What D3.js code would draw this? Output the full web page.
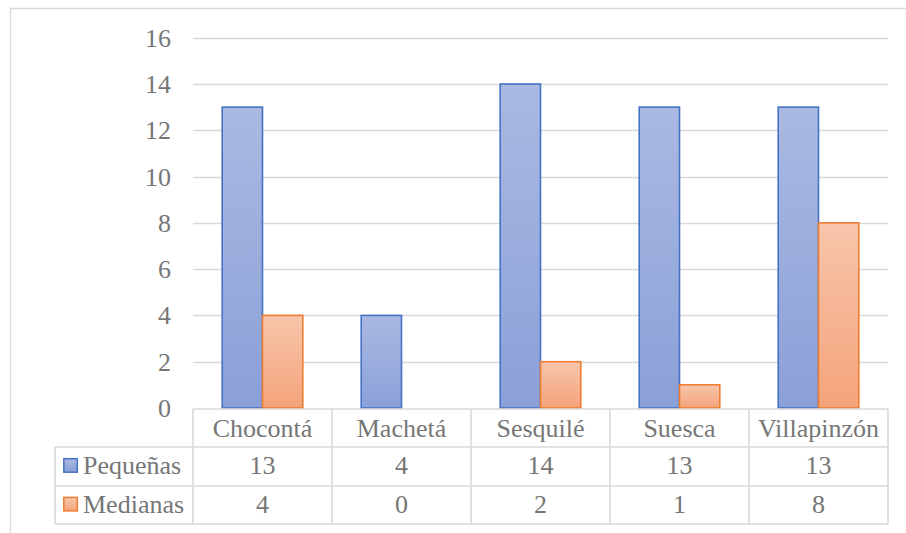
<!DOCTYPE html>
<html>
<head>
<meta charset="utf-8">
<script src="https://cdn.jsdelivr.net/npm/d3@7"></script>
</head>
<body style="margin:0">
<svg id="chart" width="906" height="533"></svg>
<script>
// Data
const categories = ["Chocontá", "Machetá", "Sesquilé", "Suesca", "Villapinzón"];
const seriesNames = ["Pequeñas", "Medianas"];
const pequenas = [13, 4, 14, 13, 13];
const medianas = [4, 0, 2, 1, 8];
const yTicks = [0, 2, 4, 6, 8, 10, 12, 14, 16];

const seriesValues = [pequenas, medianas];
const fills = ["url(#gradBlue)", "url(#gradOrange)"];
const strokes = ["#4472c4", "#ed7d31"];
const TEXT_COLOR = "#767676";

const svg = d3.select("#chart");

// Gradients for bar fills
const defs = svg.append("defs");
function grad(id, top, bottom) {
  const g = defs.append("linearGradient").attr("id", id)
    .attr("x1", 0).attr("y1", 0).attr("x2", 0).attr("y2", 1);
  g.append("stop").attr("offset", "0%").attr("stop-color", top);
  g.append("stop").attr("offset", "100%").attr("stop-color", bottom);
}
grad("gradBlue", "#aab9e2", "#8aa0d8");
grad("gradOrange", "#f8c5ab", "#f4a37a");

// Serif label text, written as plain SVG text elements
function label(parent, txt, xPos, yPos, anchor) {
  return parent.append("text")
    .attr("x", xPos).attr("y", yPos)
    .attr("text-anchor", anchor)
    .style("font-family", '"Times New Roman"')
    .style("font-size", "26px")
    .style("fill", TEXT_COLOR)
    .text(txt);
}

// Chart frame
svg.append("path")
  .attr("d", "M10.5,540 L10.5,8.5 L910,8.5")
  .attr("fill", "none").attr("stroke", "#d9d9d9").attr("stroke-width", 1.3);

const plotLeft = 193, plotRight = 888;
const x = d3.scaleBand().domain(categories).range([plotLeft, plotRight]).paddingInner(0).paddingOuter(0);
const y = d3.scaleLinear().domain([0, 16]).range([408, 37.7]);

// Gridlines
svg.append("g").selectAll("line").data(yTicks.filter(d => d > 0)).join("line")
  .attr("x1", plotLeft).attr("x2", plotRight)
  .attr("y1", d => Math.round(y(d)) + 0.5).attr("y2", d => Math.round(y(d)) + 0.5)
  .attr("stroke", "#d9d9d9").attr("stroke-width", 1.5);

// Y axis labels
const yLab = svg.append("g");
yTicks.forEach(t => label(yLab, String(t), plotLeft - 22, y(t) + 9, "end"));

// Bars
const barW = 40.3;
seriesValues.forEach((vals, si) => {
  svg.append("g").selectAll("rect").data(vals.map((v, i) => ({ v, c: categories[i] })))
    .join("rect")
    .filter(d => d.v > 0)
    .attr("x", d => x(d.c) + x.bandwidth() / 2 - barW + si * barW)
    .attr("y", d => y(d.v))
    .attr("width", barW)
    .attr("height", d => y(0) - y(d.v))
    .attr("fill", fills[si])
    .attr("stroke", strokes[si])
    .attr("stroke-width", 1.6);
});

// Data table
const tableLeft = 55;
const tbl = svg.append("g");
const gridColor = "#d9d9d9";
tbl.append("line").attr("x1", plotLeft).attr("x2", plotRight).attr("y1", 409).attr("y2", 409)
  .attr("stroke", gridColor).attr("stroke-width", 1.6);
[447, 486, 524].forEach(yy => {
  tbl.append("line").attr("x1", tableLeft).attr("x2", plotRight).attr("y1", yy).attr("y2", yy)
    .attr("stroke", gridColor).attr("stroke-width", 1.6);
});
tbl.append("line").attr("x1", tableLeft).attr("x2", tableLeft).attr("y1", 447).attr("y2", 524)
  .attr("stroke", gridColor).attr("stroke-width", 1.6);
d3.range(categories.length + 1).forEach(i => {
  const xx = plotLeft + i * x.bandwidth();
  tbl.append("line").attr("x1", xx).attr("x2", xx).attr("y1", 409).attr("y2", 524)
    .attr("stroke", gridColor).attr("stroke-width", 1.6);
});

// Category header
categories.forEach(c => label(tbl, c, x(c) + x.bandwidth() / 2, 436.5, "middle"));

// Series rows
seriesValues.forEach((vals, si) => {
  const cy = si === 0 ? 474 : 512.7;
  vals.forEach((v, i) => label(tbl, String(v), x(categories[i]) + x.bandwidth() / 2, cy, "middle"));
  // legend key
  tbl.append("rect")
    .attr("x", 63.8).attr("y", cy - 15.3).attr("width", 13.5).attr("height", 13.5)
    .attr("fill", fills[si]).attr("stroke", strokes[si]).attr("stroke-width", 1.5);
  label(tbl, seriesNames[si], 83, cy, "start");
});
</script>
</body>
</html>
